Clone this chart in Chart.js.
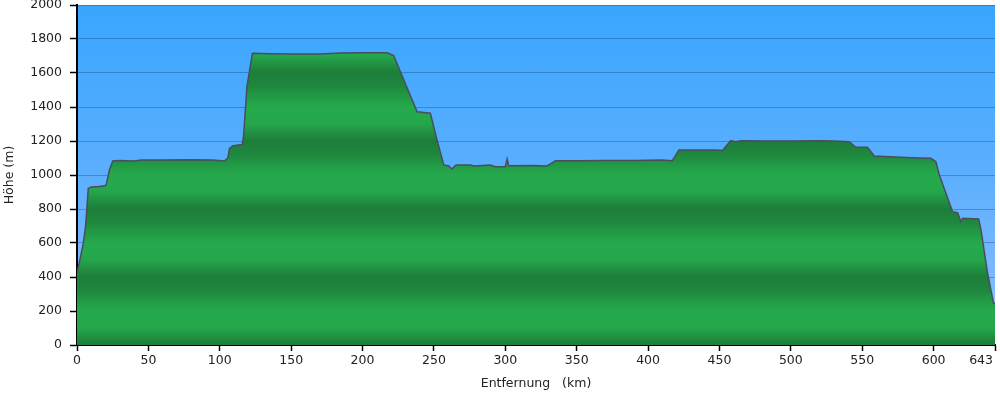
<!DOCTYPE html>
<html>
<head>
<meta charset="utf-8">
<script src="https://cdn.jsdelivr.net/npm/chart.js@4"></script>
<style>
html,body{margin:0;padding:0;background:#ffffff;}
canvas{display:block;}
</style>
</head>
<body>
<canvas id="c" width="1000" height="394"></canvas>
<script>
// Distance along route (km)
const distanceKm = [0, 2, 4.4, 6, 7.9, 10, 15, 19.8, 20.8, 22.7, 25, 30, 40, 45, 60, 80, 95, 103.3, 105.7, 106.8,
  109.2, 115.7, 116.6, 117.8, 119, 121.3, 122.9, 135, 150, 170, 185, 200, 210, 217.2, 221.8, 238.2,
  247.5, 252.2, 256.9, 260.4, 262.5, 265.5, 275.6, 277.9, 289.6, 293, 300, 301.3, 302.4, 320, 329.3,
  335.2, 352, 370, 390, 410, 417, 421.6, 446.2, 450.9, 452, 457.9, 461.4, 464.9, 480, 500, 520, 530,
  540.9, 545.5, 553.7, 558.4, 577.1, 590, 598.1, 601.6, 604, 613.3, 616.8, 619.2, 620.4, 631.6, 633.2,
  637.8, 642, 643];
// Elevation (m)
const elevationM = [425, 500, 598, 700, 921, 930, 932, 937, 953, 1029, 1082, 1085, 1083, 1088, 1088, 1090, 1088, 1082, 1102, 1157,
  1172, 1180, 1225, 1363, 1519, 1637, 1716, 1713, 1712, 1712, 1718, 1719, 1719, 1719, 1703, 1372,
  1363, 1206, 1059, 1053, 1035, 1059, 1059, 1053, 1059, 1049, 1049, 1094, 1055, 1056, 1053,
  1084, 1084, 1086, 1086, 1088, 1084, 1147, 1147, 1145, 1143, 1202, 1196, 1202, 1200, 1200, 1202, 1200,
  1196, 1163, 1163, 1112, 1104, 1100, 1098, 1078, 1000, 784, 778, 725, 745, 741, 676,
  422, 245, 245];
const xTickValues = [0, 50, 100, 150, 200, 250, 300, 350, 400, 450, 500, 550, 600, 643];
const yMin = 0, yMax = 2000, yStep = 200;
const xTitle = 'Entfernung   (km)';
const yTitle = 'Höhe (m)';

const FONT = {family: '"DejaVu Sans", Verdana, sans-serif', size: 12.5};

const bgPlugin = {
  id: 'bg',
  beforeDraw(chart) {
    const {ctx, chartArea: a} = chart;
    const g = ctx.createLinearGradient(0, a.top, 0, a.bottom);
    g.addColorStop(0, '#38a6fe');
    g.addColorStop(0.5, '#5caffe');
    g.addColorStop(1, '#90befd');
    ctx.save();
    ctx.fillStyle = g;
    ctx.fillRect(a.left, a.top, a.right - a.left, a.bottom - a.top);
    ctx.restore();
  }
};

function greenFill(context) {
  const chart = context.chart;
  const a = chart.chartArea;
  if (!a) return '#22a048';
  const y = chart.scales.y;
  const p0 = y.getPixelForValue(yMin);
  const p1 = y.getPixelForValue(yMax);
  const g = chart.ctx.createLinearGradient(0, p0, 0, p1);
  const period = 400;
  const n = (yMax - yMin) / period;
  const stops = [[0, '#1d7e3a'], [0.1, '#208c40'], [0.25, '#25a64b'], [0.5, '#26a94d'],
                 [0.65, '#229a45'], [0.8, '#1f883e'], [0.95, '#1d803b']];
  for (let i = 0; i < n; i++) {
    const b = i / n, w = 1 / n;
    stops.forEach(s => g.addColorStop(b + w * s[0], s[1]));
  }
  g.addColorStop(1, '#1d7e3a');
  return g;
}

new Chart(document.getElementById('c'), {
  type: 'line',
  data: {
    datasets: [{
      data: distanceKm.map((x, i) => ({x: x, y: elevationM[i]})),
      borderColor: '#4a4d5e',
      borderWidth: 1.5,
      backgroundColor: greenFill,
      fill: 'origin',
      pointRadius: 0,
      tension: 0
    }]
  },
  options: {
    responsive: false,
    devicePixelRatio: 1,
    animation: false,
    layout: {padding: {left: 0, top: 5, right: 5, bottom: 0}},
    plugins: {legend: {display: false}, tooltip: {enabled: false}},
    scales: {
      x: {
        type: 'linear',
        min: 0,
        max: 643,
        afterBuildTicks(scale) { scale.ticks = xTickValues.map(v => ({value: v})); },
        afterFit(scale) { scale.height = 49; scale.paddingLeft = 0; scale.paddingRight = 0; },
        grid: {drawOnChartArea: false, tickLength: 6, tickColor: '#000', tickWidth: 1.5},
        border: {color: '#000', width: 2},
        ticks: {
          font: FONT, color: '#222', padding: 2, maxRotation: 0, autoSkip: false,
          callback: (v) => v === 643 ? '643       ' : String(v)
        },
        title: {display: true, text: xTitle, font: FONT, color: '#222', padding: {top: 0, bottom: 3}}
      },
      y: {
        min: yMin,
        max: yMax,
        z: 1,
        afterFit(scale) { scale.width = 77; scale.paddingTop = 0; scale.paddingBottom = 0; },
        grid: {color: 'rgba(0,35,80,0.28)', lineWidth: 1, tickLength: 7, tickColor: '#000', tickWidth: 1.5},
        border: {color: '#000', width: 2},
        ticks: {font: FONT, color: '#222', padding: 8, stepSize: yStep, callback: (v) => String(v)},
        title: {display: true, text: yTitle, font: FONT, color: '#222', padding: {top: 2, bottom: 0}}
      }
    }
  },
  plugins: [bgPlugin]
});
</script>
</body>
</html>
